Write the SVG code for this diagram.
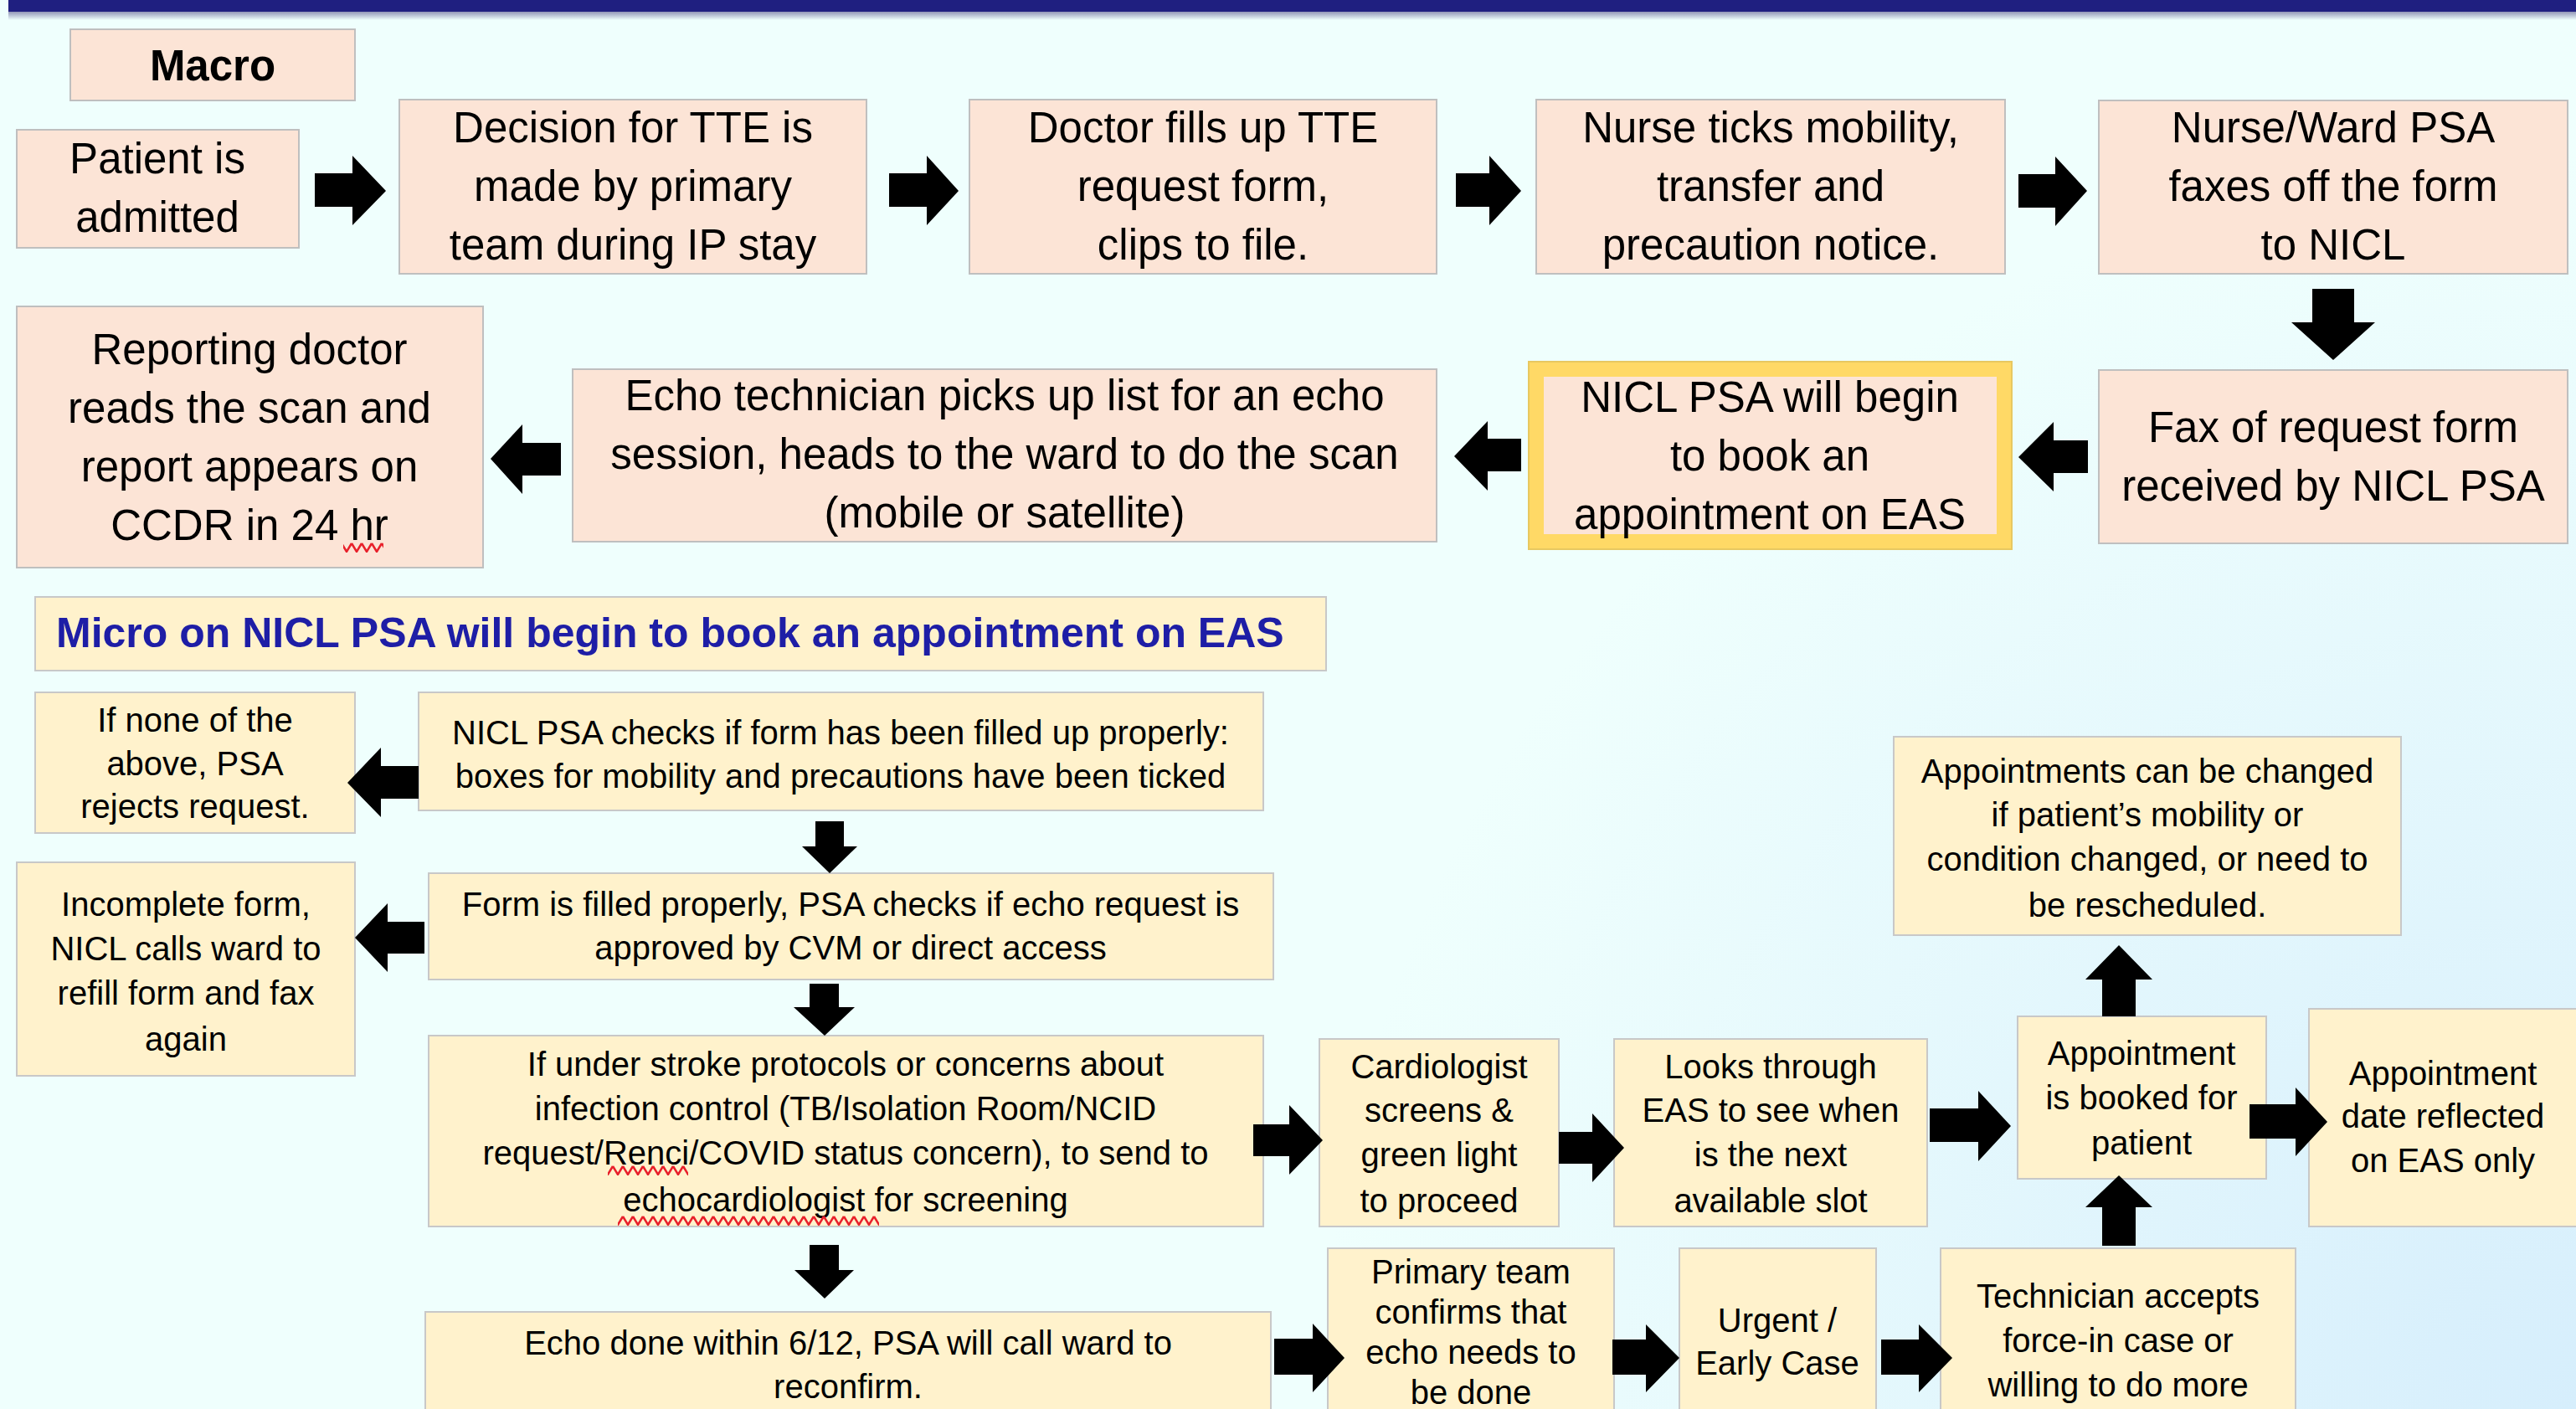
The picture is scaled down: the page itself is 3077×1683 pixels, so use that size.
<svg xmlns="http://www.w3.org/2000/svg" width="3077" height="1683" viewBox="0 0 3077 1683">
<style>
.mac{fill:#FCE4D6;stroke:#BFBFBF;stroke-width:2}
.mic{fill:#FFF2CC;stroke:#C8C8C8;stroke-width:2}
.t{font-family:"Liberation Sans",Arial,sans-serif;font-size:51px;fill:#000;text-anchor:middle}
.s{font-family:"Liberation Sans",Arial,sans-serif;font-size:40px;fill:#000;text-anchor:middle}
.b{font-weight:bold}
.title{font-family:"Liberation Sans",Arial,sans-serif;font-size:50px;font-weight:bold;fill:#1E1EA6}
.arr{fill:#000}
</style>
<defs>
<radialGradient id="bgtint" cx="3077" cy="1683" r="1500" gradientUnits="userSpaceOnUse">
<stop offset="0" stop-color="#D6EEFC" stop-opacity="1"/>
<stop offset="1" stop-color="#D6EEFC" stop-opacity="0"/>
</radialGradient>
<linearGradient id="shadow" x1="0" y1="0" x2="0" y2="1">
<stop offset="0" stop-color="#6A6A9A" stop-opacity="0.7"/>
<stop offset="1" stop-color="#6A6A9A" stop-opacity="0"/>
</linearGradient>
<pattern id="squig" width="12" height="12" patternUnits="userSpaceOnUse">
<polyline points="0,1 6,11 12,1" fill="none" stroke="#E8202A" stroke-width="2.5"/>
</pattern>
</defs>
<rect x="0" y="0" width="3077" height="1683" fill="#EFFFFD"/>
<rect x="0" y="0" width="3077" height="1683" fill="url(#bgtint)"/>
<rect x="10" y="14" width="3067" height="10" fill="url(#shadow)"/>
<rect x="10" y="0" width="3067" height="14" fill="#1F1F80"/>

<g id="n-macro"><rect class="mac" x="84" y="35" width="340" height="85"/><text class="t b" x="254" y="96">Macro</text></g>
<g id="n-patient"><rect class="mac" x="20" y="155" width="337" height="141"/><text class="t" x="188" y="207">Patient is</text><text class="t" x="188" y="277">admitted</text></g>
<g id="n-decision"><rect class="mac" x="477" y="119" width="558" height="208"/><text class="t" x="756" y="170">Decision for TTE is</text><text class="t" x="756" y="240">made by primary</text><text class="t" x="756" y="310">team during IP stay</text></g>
<g id="n-doctor"><rect class="mac" x="1158" y="119" width="558" height="208"/><text class="t" x="1437" y="170">Doctor fills up TTE</text><text class="t" x="1437" y="240">request form,</text><text class="t" x="1437" y="310">clips to file.</text></g>
<g id="n-nurse"><rect class="mac" x="1835" y="119" width="560" height="208"/><text class="t" x="2115" y="170">Nurse ticks mobility,</text><text class="t" x="2115" y="240">transfer and</text><text class="t" x="2115" y="310">precaution notice.</text></g>
<g id="n-nurseward"><rect class="mac" x="2507" y="120" width="560" height="207"/><text class="t" x="2787" y="170">Nurse/Ward PSA</text><text class="t" x="2787" y="240">faxes off the form</text><text class="t" x="2787" y="310">to NICL</text></g>
<g id="n-fax"><rect class="mac" x="2507" y="442" width="560" height="207"/><text class="t" x="2787" y="528">Fax of request form</text><text class="t" x="2787" y="598">received by NICL PSA</text></g>
<g id="n-nicl"><rect x="1826" y="432" width="577" height="224" fill="#FFD966" stroke="#E8C860" stroke-width="2"/><rect x="1844" y="450" width="541" height="188" fill="#FCE4D6"/><text class="t" x="2114" y="492">NICL PSA will begin</text><text class="t" x="2114" y="562">to book an</text><text class="t" x="2114" y="632">appointment on EAS</text></g>
<g id="n-echotech"><rect class="mac" x="684" y="441" width="1032" height="206"/><text class="t" x="1200" y="490">Echo technician picks up list for an echo</text><text class="t" x="1200" y="560">session, heads to the ward to do the scan</text><text class="t" x="1200" y="630">(mobile or satellite)</text></g>
<g id="n-report"><rect class="mac" x="20" y="366" width="557" height="312"/><text class="t" x="298" y="435">Reporting doctor</text><text class="t" x="298" y="505">reads the scan and</text><text class="t" x="298" y="575">report appears on</text><text class="t" x="298" y="645">CCDR in 24 hr</text><rect x="410" y="648" width="48" height="12" fill="url(#squig)"/></g>

<g id="n-title"><rect class="mic" x="42" y="713" width="1542" height="88"/><text class="title" x="67" y="773">Micro on NICL PSA will begin to book an appointment on EAS</text></g>
<g id="n-ifnone"><rect class="mic" x="42" y="827" width="382" height="168"/><text class="s" x="233" y="874">If none of the</text><text class="s" x="233" y="926">above, PSA</text><text class="s" x="233" y="977">rejects request.</text></g>
<g id="n-checks"><rect class="mic" x="500" y="827" width="1009" height="141"/><text class="s" x="1004" y="889">NICL PSA checks if form has been filled up properly:</text><text class="s" x="1004" y="941">boxes for mobility and precautions have been ticked</text></g>
<g id="n-form"><rect class="mic" x="512" y="1043" width="1009" height="127"/><text class="s" x="1016" y="1094">Form is filled properly, PSA checks if echo request is</text><text class="s" x="1016" y="1146">approved by CVM or direct access</text></g>
<g id="n-incomplete"><rect class="mic" x="20" y="1030" width="404" height="255"/><text class="s" x="222" y="1094">Incomplete form,</text><text class="s" x="222" y="1147">NICL calls ward to</text><text class="s" x="222" y="1200">refill form and fax</text><text class="s" x="222" y="1255">again</text></g>
<g id="n-stroke"><rect class="mic" x="512" y="1237" width="997" height="228"/><text class="s" x="1010" y="1285">If under stroke protocols or concerns about</text><text class="s" x="1010" y="1338">infection control (TB/Isolation Room/NCID</text><text class="s" x="1010" y="1391">request/Renci/COVID status concern), to send to</text><text class="s" x="1010" y="1447">echocardiologist for screening</text><rect x="726" y="1392" width="96" height="12" fill="url(#squig)"/><rect x="738" y="1452" width="312" height="12" fill="url(#squig)"/></g>
<g id="n-echodone"><rect class="mic" x="508" y="1567" width="1010" height="140"/><text class="s" x="1013" y="1618">Echo done within 6/12, PSA will call ward to</text><text class="s" x="1013" y="1670">reconfirm.</text></g>
<g id="n-cardio"><rect class="mic" x="1576" y="1241" width="286" height="224"/><text class="s" x="1719" y="1288">Cardiologist</text><text class="s" x="1719" y="1340">screens &amp;</text><text class="s" x="1719" y="1393">green light</text><text class="s" x="1719" y="1448">to proceed</text></g>
<g id="n-looks"><rect class="mic" x="1928" y="1241" width="374" height="224"/><text class="s" x="2115" y="1288">Looks through</text><text class="s" x="2115" y="1340">EAS to see when</text><text class="s" x="2115" y="1393">is the next</text><text class="s" x="2115" y="1448">available slot</text></g>
<g id="n-changed"><rect class="mic" x="2262" y="880" width="606" height="237"/><text class="s" x="2565" y="935">Appointments can be changed</text><text class="s" x="2565" y="987">if patient’s mobility or</text><text class="s" x="2565" y="1040">condition changed, or need to</text><text class="s" x="2565" y="1095">be rescheduled.</text></g>
<g id="n-booked"><rect class="mic" x="2410" y="1214" width="297" height="194"/><text class="s" x="2558" y="1272">Appointment</text><text class="s" x="2558" y="1325">is booked for</text><text class="s" x="2558" y="1379">patient</text></g>
<g id="n-date"><rect class="mic" x="2758" y="1205" width="330" height="260"/><text class="s" x="2918" y="1296">Appointment</text><text class="s" x="2918" y="1347">date reflected</text><text class="s" x="2918" y="1400">on EAS only</text></g>
<g id="n-primary"><rect class="mic" x="1586" y="1491" width="342" height="220"/><text class="s" x="1757" y="1533">Primary team</text><text class="s" x="1757" y="1581">confirms that</text><text class="s" x="1757" y="1629">echo needs to</text><text class="s" x="1757" y="1677">be done</text></g>
<g id="n-urgent"><rect class="mic" x="2006" y="1491" width="235" height="220"/><text class="s" x="2123" y="1591">Urgent /</text><text class="s" x="2123" y="1642">Early Case</text></g>
<g id="n-tech"><rect class="mic" x="2318" y="1491" width="424" height="220"/><text class="s" x="2530" y="1562">Technician accepts</text><text class="s" x="2530" y="1615">force-in case or</text><text class="s" x="2530" y="1668">willing to do more</text></g>

<g id="connectors">
<polygon class="arr" points="376,207 421,207 421,186 461,228 421,269 421,247 376,247"/>
<polygon class="arr" points="1062,207 1107,207 1107,186 1145,228 1107,269 1107,247 1062,247"/>
<polygon class="arr" points="1739,207 1779,207 1779,186 1817,228 1779,269 1779,247 1739,247"/>
<polygon class="arr" points="2411,208 2455,208 2455,187 2493,228 2455,270 2455,248 2411,248"/>
<polygon class="arr" points="2762,345 2812,345 2812,385 2837,385 2787,430 2737,385 2762,385"/>
<polygon class="arr" points="2494,526 2453,526 2453,504 2411,546 2453,587 2453,565 2494,565"/>
<polygon class="arr" points="1817,524 1777,524 1777,503 1737,545 1777,586 1777,563 1817,563"/>
<polygon class="arr" points="670,529 624,529 624,507 586,548 624,590 624,568 670,568"/>
<polygon class="arr" points="500,915 455,915 455,893 415,935 455,976 455,954 500,954"/>
<polygon class="arr" points="974,981 1008,981 1008,1011 1024,1011 991,1043 958,1011 974,1011"/>
<polygon class="arr" points="507,1101 463,1101 463,1079 424,1120 463,1161 463,1139 507,1139"/>
<polygon class="arr" points="967,1175 1002,1175 1002,1203 1021,1203 985,1237 948,1203 967,1203"/>
<polygon class="arr" points="967,1487 1002,1487 1002,1517 1020,1517 985,1551 949,1517 967,1517"/>
<polygon class="arr" points="1497,1343 1540,1343 1540,1320 1580,1362 1540,1403 1540,1381 1497,1381"/>
<polygon class="arr" points="1862,1352 1902,1352 1902,1330 1940,1371 1902,1412 1902,1390 1862,1390"/>
<polygon class="arr" points="2305,1324 2363,1324 2363,1303 2402,1345 2363,1387 2363,1364 2305,1364"/>
<polygon class="arr" points="2687,1319 2742,1319 2742,1299 2780,1340 2742,1381 2742,1360 2687,1360"/>
<polygon class="arr" points="2511,1214 2551,1214 2551,1170 2571,1170 2531,1129 2491,1170 2511,1170"/>
<polygon class="arr" points="2511,1488 2551,1488 2551,1442 2571,1442 2531,1404 2491,1442 2511,1442"/>
<polygon class="arr" points="1522,1599 1568,1599 1568,1581 1606,1622 1568,1663 1568,1642 1522,1642"/>
<polygon class="arr" points="1926,1600 1966,1600 1966,1582 2006,1622 1966,1663 1966,1642 1926,1642"/>
<polygon class="arr" points="2247,1600 2292,1600 2292,1582 2332,1622 2292,1663 2292,1642 2247,1642"/>
</g>
</svg>
